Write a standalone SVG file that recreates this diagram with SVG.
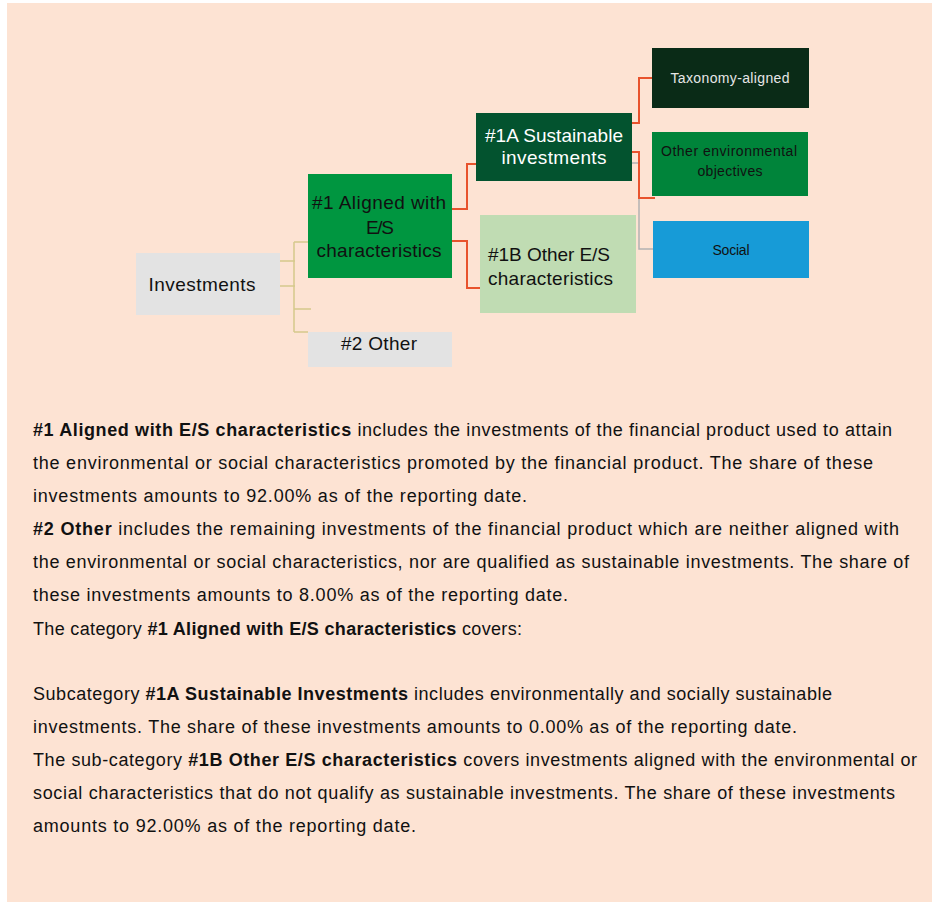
<svg xmlns="http://www.w3.org/2000/svg" width="932" height="903" viewBox="0 0 932 903">
  <defs>
    <style>
      .lbl { font-family: "Liberation Sans", Arial, sans-serif; text-anchor: middle; }
      .big { font-size: 19px; }
      .small { font-size: 14px; }
      .dark { fill: #111111; }
      .light { fill: #FFFFFF; }
      .body { font-family: "Liberation Sans", Arial, sans-serif; font-size: 18px; fill: #111111; }
      .b { font-weight: bold; }
      .tan { fill: none; stroke: #D5C98C; stroke-width: 1.5; }
      .red { fill: none; stroke: #E8532D; stroke-width: 2; }
      .grey { fill: none; stroke: #B3B3B3; stroke-width: 1.5; }
    </style>
  </defs>

  <!-- page background -->
  <rect x="7" y="3" width="925" height="899" fill="#FDE3D3"/>

  <!-- connectors -->
  <g id="connectors">
    <path class="tan" d="M280,261 H295 M294,242 V332 M294,242 H308 M294,309 H311 M294,332 H308"/>
    <path class="tan" d="M280,286 H295" stroke-width="3.5"/>
    <path class="red" d="M452,209 H467 V164 H476"/>
    <path class="red" d="M452,241 H467 V288 H480"/>
    <path class="grey" d="M632,163 H639 V249 H653"/>
    <path class="red" d="M632,123 H639 V78 H652"/>
    <path class="red" d="M632,152 H639 V198 H655"/>
  </g>

  <!-- nodes -->
  <g id="investments">
    <rect x="136" y="253" width="144" height="62" fill="#E3E3E3"/>
    <text class="lbl big dark" x="202" y="291" textLength="107">Investments</text>
  </g>

  <g id="aligned">
    <rect x="308" y="174" width="144" height="104" fill="#009640"/>
    <text class="lbl big dark" x="379" y="209" textLength="134">#1 Aligned with</text>
    <text class="lbl big dark" x="380" y="234" textLength="28">E/S</text>
    <text class="lbl big dark" x="379" y="257" textLength="125">characteristics</text>
  </g>

  <g id="other">
    <rect x="308" y="332" width="144" height="35" fill="#E3E3E3"/>
    <text class="lbl big dark" x="379" y="350" textLength="76">#2 Other</text>
  </g>

  <g id="sustainable">
    <rect x="476" y="113" width="156" height="68" fill="#03532F"/>
    <text class="lbl big light" x="554" y="142" textLength="138">#1A Sustainable</text>
    <text class="lbl big light" x="554" y="164" textLength="105">investments</text>
  </g>

  <g id="other-es">
    <rect x="480" y="215" width="156" height="98" fill="#C0DCB3"/>
    <text class="lbl big dark" x="488" y="261" style="text-anchor:start" textLength="122">#1B Other E/S</text>
    <text class="lbl big dark" x="488" y="285" style="text-anchor:start" textLength="125">characteristics</text>
  </g>

  <g id="taxonomy">
    <rect x="652" y="48" width="157" height="60" fill="#0A2B17"/>
    <text class="lbl small" x="730" y="83" fill="#E6E6E6" textLength="119">Taxonomy-aligned</text>
  </g>

  <g id="other-env">
    <rect x="652" y="132" width="156" height="64" fill="#00843A"/>
    <text class="lbl small dark" x="729" y="156" textLength="136">Other environmental</text>
    <text class="lbl small dark" x="730" y="176" textLength="65">objectives</text>
  </g>

  <g id="social">
    <rect x="653" y="221" width="156" height="57" fill="#179BD7"/>
    <text class="lbl small dark" x="731" y="255" textLength="37">Social</text>
  </g>

  <!-- explanatory paragraphs -->
  <g id="notes">
    <text class="body" x="33" y="436" textLength="859" lengthAdjust="spacing"><tspan class="b">#1 Aligned with E/S characteristics</tspan> includes the investments of the financial product used to attain</text>
    <text class="body" x="33" y="469" textLength="840" lengthAdjust="spacing">the environmental or social characteristics promoted by the financial product. The share of these</text>
    <text class="body" x="33" y="502" textLength="494" lengthAdjust="spacing">investments amounts to 92.00% as of the reporting date.</text>
    <text class="body" x="33" y="535" textLength="866" lengthAdjust="spacing"><tspan class="b">#2 Other</tspan> includes the remaining investments of the financial product which are neither aligned with</text>
    <text class="body" x="33" y="568" textLength="876" lengthAdjust="spacing">the environmental or social characteristics, nor are qualified as sustainable investments. The share of</text>
    <text class="body" x="33" y="601" textLength="535" lengthAdjust="spacing">these investments amounts to 8.00% as of the reporting date.</text>
    <text class="body" x="33" y="635" textLength="489" lengthAdjust="spacing">The category <tspan class="b">#1 Aligned with E/S characteristics</tspan> covers:</text>
    <text class="body" x="33" y="700" textLength="799" lengthAdjust="spacing">Subcategory <tspan class="b">#1A Sustainable Investments</tspan> includes environmentally and socially sustainable</text>
    <text class="body" x="33" y="733" textLength="764" lengthAdjust="spacing">investments. The share of these investments amounts to 0.00% as of the reporting date.</text>
    <text class="body" x="33" y="766" textLength="884" lengthAdjust="spacing">The sub-category <tspan class="b">#1B Other E/S characteristics</tspan> covers investments aligned with the environmental or</text>
    <text class="body" x="33" y="799" textLength="862" lengthAdjust="spacing">social characteristics that do not qualify as sustainable investments. The share of these investments</text>
    <text class="body" x="33" y="832" textLength="383" lengthAdjust="spacing">amounts to 92.00% as of the reporting date.</text>
  </g>
</svg>
